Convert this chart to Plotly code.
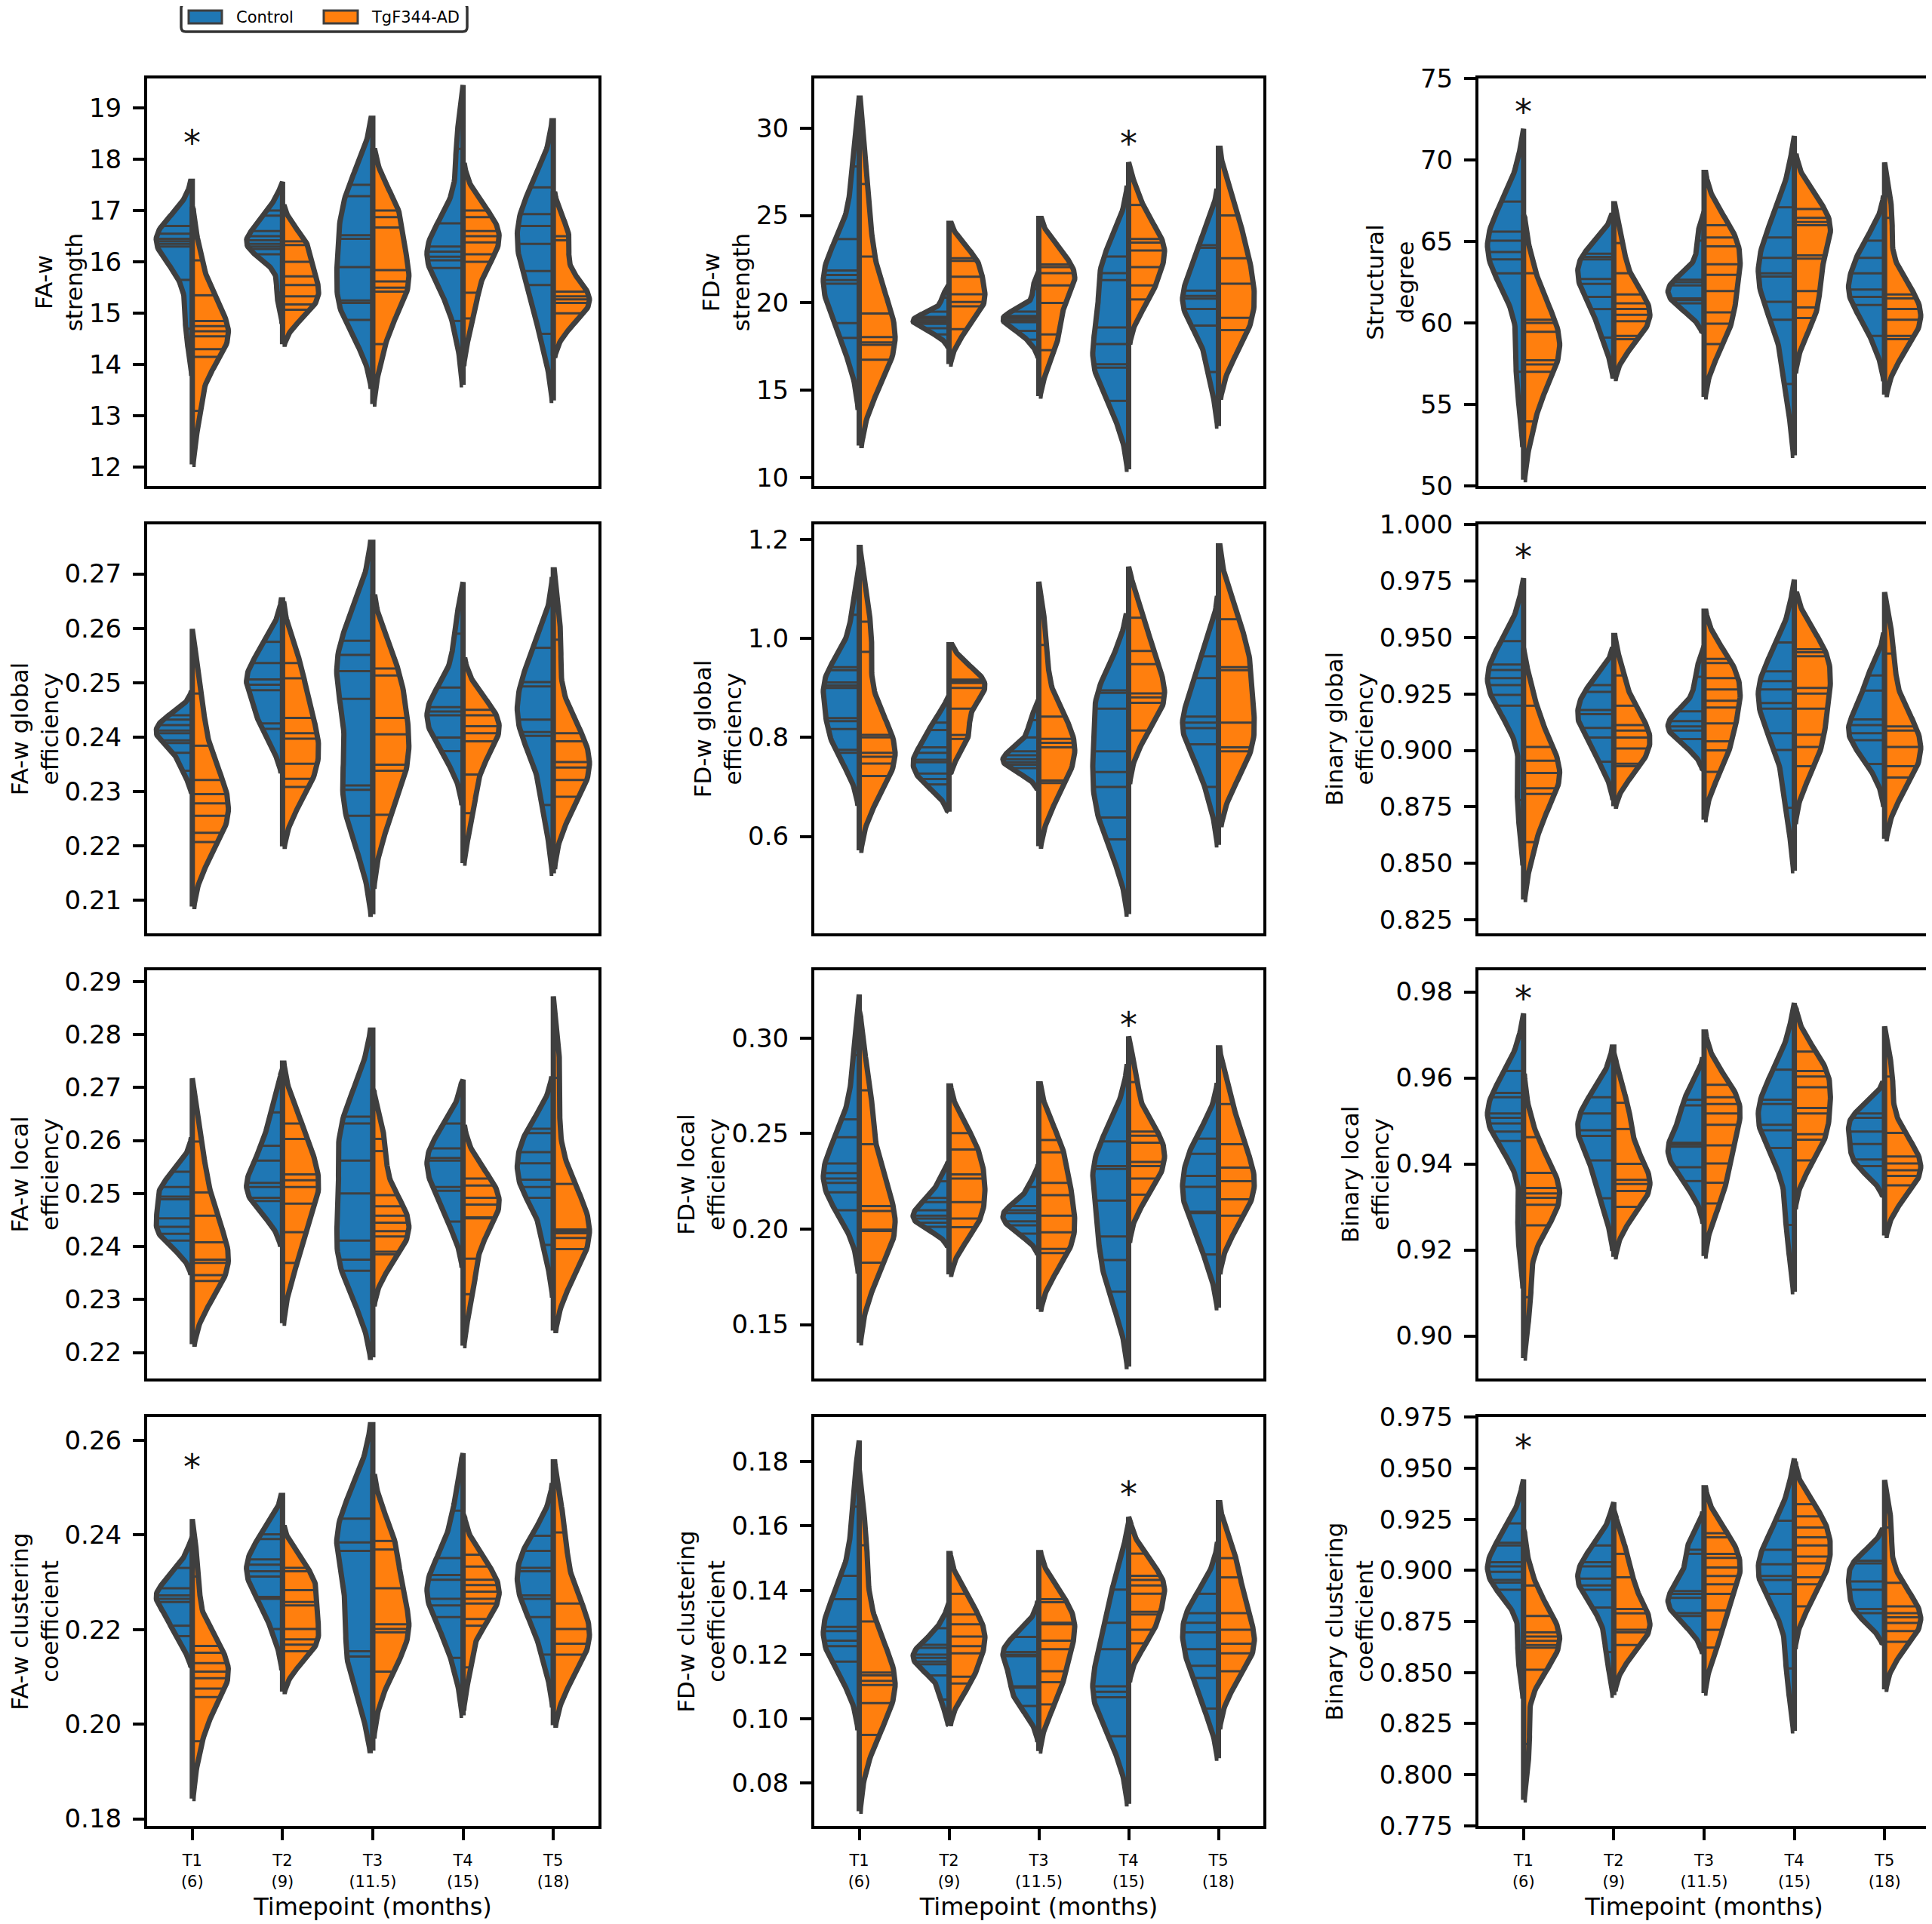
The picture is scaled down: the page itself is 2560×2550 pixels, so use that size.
import numpy as np
import plotly.graph_objects as go

# ---------------- data ----------------
timepoints = ["T1<br>(6)", "T2<br>(9)", "T3<br>(11.5)", "T4<br>(15)", "T5<br>(18)"]
groups = ["Control", "TgF344-AD"]

metric_labels = ["FA-w<br>strength", "FD-w<br>strength", "Structural<br>degree",
                 "FA-w global<br>efficiency", "FD-w global<br>efficiency", "Binary global<br>efficiency",
                 "FA-w local<br>efficiency", "FD-w local<br>efficiency", "Binary local<br>efficiency",
                 "FA-w clustering<br>coefficient", "FD-w clustering<br>coefficient", "Binary clustering<br>coefficient"]

fa_w_strength_control = [
    [16.7, 16.55, 16.45, 16.4, 16.35, 16.3, 15.65, 14.7],
    [17.0, 16.9, 16.6, 16.5, 16.42, 16.35, 16.3, 16.25, 16.15, 15.4],
    [17.5, 17.28, 16.52, 16.45, 15.9, 15.25, 15.2, 14.87],
    [18.2, 16.75, 16.3, 16.2, 16.1, 16.03, 15.88, 14.85],
    [17.45, 16.93, 16.7, 16.35, 15.82, 15.55, 14.6],
]
fa_w_strength_tg = [
    [16.03, 15.35, 14.85, 14.75, 14.65, 14.55, 14.3, 14.15, 13.1],
    [16.4, 16.33, 16.0, 15.72, 15.55, 15.33, 15.17, 15.07],
    [17.0, 16.87, 16.67, 15.84, 15.62, 15.5, 15.42, 14.4],
    [17.0, 16.87, 16.6, 16.5, 16.38, 16.15, 16.0, 15.4, 14.9],
    [16.5, 16.42, 15.42, 15.33, 15.27, 15.2, 15.0],
]
fd_w_strength_control = [
    [27.8, 23.65, 21.85, 21.6, 21.3, 21.1, 18.85, 18.0],
    [20.3, 19.5, 19.2, 19.1, 19.0, 18.9, 18.8, 18.55, 18.2],
    [20.8, 19.5, 19.25, 19.15, 19.1, 19.0, 18.9, 18.4, 17.9],
    [22.65, 21.7, 21.3, 18.6, 17.65, 16.5, 16.3, 14.4],
    [23.3, 23.15, 20.7, 20.4, 20.25, 19.65, 18.7, 16.05],
]
fd_w_strength_tg = [
    [26.8, 22.65, 19.4, 18.05, 17.75, 17.6, 16.75],
    [22.55, 22.4, 21.5, 20.5, 20.05, 19.8, 18.5],
    [22.2, 22.05, 21.7, 21.0, 20.0, 18.2, 17.3],
    [25.6, 23.65, 23.45, 23.0, 22.05, 21.0, 20.2],
    [25.0, 22.55, 21.1, 19.15, 18.45],
]
structural_degree_control = [
    [67.45, 65.6, 65.05, 64.35, 63.9, 63.05, 57.0],
    [64.25, 64.05, 63.9, 62.7, 62.4, 61.6, 60.85, 59.1],
    [65.05, 62.65, 62.5, 62.3, 61.5, 61.4, 61.2],
    [67.1, 65.25, 64.0, 63.05, 62.85, 61.3, 60.2, 56.25],
    [65.05, 64.0, 63.05, 62.05, 61.6, 61.1, 59.2],
]
structural_degree_tg = [
    [63.05, 60.2, 60.0, 59.45, 57.7, 57.45, 57.0, 53.95],
    [64.9, 63.05, 61.75, 61.2, 60.85, 60.5, 60.1, 59.2, 59.0],
    [66.0, 65.25, 64.7, 63.6, 62.95, 61.95, 60.65, 59.95, 58.7],
    [67.0, 66.45, 66.2, 66.0, 64.15, 63.95, 61.95, 60.95, 60.3],
    [66.45, 61.75, 61.5, 60.85, 60.2, 59.2, 59.0],
]
fa_w_global_eff_control = [
    [0.2440, 0.2432, 0.2422, 0.2412, 0.2407, 0.2394, 0.2389, 0.2371, 0.2338],
    [0.2575, 0.2536, 0.2506, 0.2496, 0.2486, 0.2425, 0.2415],
    [0.2577, 0.2551, 0.2521, 0.2470, 0.2311, 0.2303, 0.2255],
    [0.2590, 0.2491, 0.2455, 0.2447, 0.2440, 0.2399, 0.2374],
    [0.2564, 0.2501, 0.2493, 0.2432, 0.2409, 0.2402, 0.2275],
]
fa_w_global_eff_tg = [
    [0.2480, 0.2384, 0.2321, 0.2295, 0.2278, 0.2255, 0.2224, 0.2207],
    [0.2536, 0.2508, 0.2435, 0.2407, 0.2397, 0.2351, 0.2323, 0.2308],
    [0.2526, 0.2513, 0.2435, 0.2405, 0.2349, 0.2338, 0.2257],
    [0.2450, 0.2440, 0.2420, 0.2407, 0.2392, 0.2331, 0.2260],
    [0.2579, 0.2407, 0.2392, 0.2354, 0.2344, 0.2321, 0.2290],
]
fd_w_global_eff_control = [
    [1.048, 0.942, 0.936, 0.911, 0.905, 0.900, 0.839, 0.833, 0.817, 0.775, 0.769],
    [0.830, 0.815, 0.780, 0.769, 0.755, 0.750, 0.727, 0.716, 0.705],
    [0.835, 0.800, 0.772, 0.764, 0.756, 0.750, 0.745, 0.738],
    [0.895, 0.890, 0.858, 0.772, 0.730, 0.700, 0.638, 0.594],
    [0.964, 0.920, 0.842, 0.830, 0.819, 0.786, 0.700],
]
fd_w_global_eff_tg = [
    [1.034, 0.973, 0.805, 0.800, 0.769, 0.761, 0.747, 0.722],
    [0.917, 0.913, 0.910, 0.900, 0.858, 0.805, 0.797],
    [0.987, 0.842, 0.797, 0.789, 0.780, 0.713, 0.708],
    [1.042, 0.975, 0.948, 0.889, 0.881, 0.870, 0.814],
    [1.039, 0.942, 0.936, 0.830, 0.780, 0.772],
]
binary_global_eff_control = [
    [0.9484, 0.9380, 0.9356, 0.9320, 0.9289, 0.9246, 0.9198, 0.8780],
    [0.9289, 0.9259, 0.9179, 0.9161, 0.9100, 0.9057, 0.8950],
    [0.9326, 0.9173, 0.9130, 0.9106, 0.9088, 0.9050],
    [0.9478, 0.9350, 0.9307, 0.9270, 0.9210, 0.9185, 0.9076, 0.9002, 0.8746],
    [0.9332, 0.9265, 0.9137, 0.9112, 0.9076, 0.9045, 0.8940],
]
binary_global_eff_tg = [
    [0.9198, 0.9015, 0.8954, 0.8900, 0.8832, 0.8807, 0.8594],
    [0.9332, 0.9198, 0.9112, 0.9088, 0.9057, 0.9009, 0.8941, 0.8930],
    [0.9405, 0.9387, 0.9320, 0.9270, 0.9220, 0.9190, 0.9120, 0.9040, 0.9000, 0.8905],
    [0.9448, 0.9435, 0.9417, 0.9277, 0.9252, 0.9185, 0.9070, 0.9015, 0.8930],
    [0.9429, 0.9106, 0.9088, 0.9015, 0.8930, 0.8880],
]
fa_w_local_eff_control = [
    [0.2541, 0.2512, 0.2494, 0.2489, 0.2453, 0.2437, 0.2424, 0.2411],
    [0.2653, 0.2590, 0.2562, 0.2520, 0.2512, 0.2492, 0.2486],
    [0.2645, 0.2632, 0.2562, 0.2500, 0.2411, 0.2375, 0.2354],
    [0.2632, 0.2585, 0.2567, 0.2562, 0.2512, 0.2505, 0.2447],
    [0.2622, 0.2614, 0.2578, 0.2557, 0.2526, 0.2512, 0.2492, 0.2403],
]
fa_w_local_eff_tg = [
    [0.2598, 0.2502, 0.2458, 0.2408, 0.2375, 0.2369, 0.2346, 0.2335],
    [0.2632, 0.2603, 0.2536, 0.2525, 0.2512, 0.2481, 0.2427, 0.2369],
    [0.2603, 0.2580, 0.2497, 0.2476, 0.2458, 0.2445, 0.2429, 0.2419, 0.2390, 0.2385],
    [0.2528, 0.2515, 0.2492, 0.2479, 0.2455, 0.2453, 0.2377, 0.2310],
    [0.2718, 0.2518, 0.2432, 0.2429, 0.2425, 0.2416, 0.2395],
]
fd_w_local_eff_control = [
    [0.2910, 0.2574, 0.2480, 0.2343, 0.2293, 0.2264, 0.2242, 0.2192, 0.2098],
    [0.2250, 0.2163, 0.2141, 0.2098, 0.2070, 0.2055, 0.2033, 0.2012],
    [0.2220, 0.2120, 0.2098, 0.2084, 0.2040, 0.2019, 0.1976],
    [0.2459, 0.2329, 0.2315, 0.2149, 0.1961, 0.1838, 0.1672],
    [0.2473, 0.2394, 0.2278, 0.2221, 0.2091, 0.2084, 0.1867],
]
fd_w_local_eff_tg = [
    [0.2726, 0.2444, 0.2120, 0.2095, 0.1997, 0.1990, 0.1824],
    [0.2502, 0.2416, 0.2286, 0.2264, 0.2141, 0.2055, 0.2010],
    [0.2466, 0.2401, 0.2242, 0.2177, 0.2070, 0.1983, 0.1896, 0.1874],
    [0.2769, 0.2510, 0.2488, 0.2452, 0.2351, 0.2329, 0.2264, 0.2180],
    [0.2654, 0.2444, 0.2322, 0.2250, 0.2156, 0.2070],
]
binary_local_eff_control = [
    [0.9616, 0.9565, 0.9555, 0.9517, 0.9507, 0.9494, 0.9475, 0.9453, 0.9250],
    [0.9555, 0.9517, 0.9478, 0.9465, 0.9408, 0.9320],
    [0.9549, 0.9536, 0.9449, 0.9445, 0.9440, 0.9392, 0.9360],
    [0.9619, 0.9549, 0.9539, 0.9491, 0.9478, 0.9437, 0.9258],
    [0.9517, 0.9507, 0.9475, 0.9446, 0.9410, 0.9395],
]
binary_local_eff_tg = [
    [0.9462, 0.9379, 0.9344, 0.9331, 0.9321, 0.9305, 0.9257, 0.9090],
    [0.9542, 0.9481, 0.9400, 0.9363, 0.9353, 0.9337, 0.9300],
    [0.9584, 0.9555, 0.9539, 0.9517, 0.9491, 0.9443, 0.9401, 0.9356, 0.9308],
    [0.9661, 0.9616, 0.9603, 0.9578, 0.9530, 0.9517, 0.9469, 0.9456, 0.9408],
    [0.9603, 0.9472, 0.9417, 0.9401, 0.9385, 0.9372, 0.9350],
]
fa_w_clustering_control = [
    [0.2330, 0.2287, 0.2272, 0.2265, 0.2258, 0.2208, 0.2186],
    [0.2401, 0.2391, 0.2348, 0.2337, 0.2323, 0.2312, 0.2269, 0.2265, 0.2201],
    [0.2434, 0.2384, 0.2366, 0.2154, 0.2143],
    [0.2451, 0.2351, 0.2315, 0.2305, 0.2265, 0.2251, 0.2226, 0.2140],
    [0.2398, 0.2366, 0.2330, 0.2323, 0.2272, 0.2265, 0.2226, 0.2147],
]
fa_w_clustering_tg = [
    [0.2312, 0.2165, 0.2151, 0.2129, 0.2111, 0.2097, 0.2075, 0.2057, 0.1964],
    [0.2330, 0.2323, 0.2283, 0.2258, 0.2251, 0.2201, 0.2179, 0.2168, 0.2154],
    [0.2387, 0.2369, 0.2287, 0.2211, 0.2201, 0.2194, 0.2111],
    [0.2358, 0.2333, 0.2305, 0.2294, 0.2280, 0.2265, 0.2255, 0.2222, 0.2208, 0.2120],
    [0.2405, 0.2255, 0.2201, 0.2170, 0.2147],
]
fd_w_clustering_control = [
    [0.1660, 0.1445, 0.1372, 0.1286, 0.1273, 0.1243, 0.1226, 0.1178],
    [0.1282, 0.1230, 0.1221, 0.1200, 0.1190, 0.1178, 0.1170, 0.1135, 0.1060],
    [0.1255, 0.1208, 0.1200, 0.1195, 0.1101, 0.1097, 0.1040],
    [0.1402, 0.1299, 0.1217, 0.1101, 0.1084, 0.1067, 0.0946],
    [0.1389, 0.1329, 0.1299, 0.1269, 0.1217, 0.1165, 0.1127, 0.1032],
]
fd_w_clustering_tg = [
    [0.1540, 0.1303, 0.1144, 0.1135, 0.1118, 0.1105, 0.1049, 0.0950],
    [0.1389, 0.1325, 0.1294, 0.1256, 0.1226, 0.1204, 0.1131, 0.1110],
    [0.1372, 0.1363, 0.1299, 0.1294, 0.1243, 0.1217, 0.1148, 0.1114, 0.1045],
    [0.1514, 0.1445, 0.1432, 0.1415, 0.1389, 0.1333, 0.1325, 0.1277, 0.1235],
    [0.1500, 0.1440, 0.1329, 0.1277, 0.1234, 0.1204, 0.1148],
]
binary_clustering_control = [
    [0.9230, 0.9135, 0.9122, 0.9040, 0.9020, 0.8993, 0.8953, 0.8940, 0.8905, 0.8600],
    [0.9122, 0.9040, 0.9020, 0.8960, 0.8926, 0.8905, 0.8818, 0.8600],
    [0.9101, 0.9081, 0.8899, 0.8885, 0.8865, 0.8791, 0.8777],
    [0.9243, 0.9101, 0.9030, 0.8973, 0.8953, 0.8885, 0.8520],
    [0.9047, 0.9034, 0.8946, 0.8905, 0.8811, 0.8791],
]
binary_clustering_tg = [
    [0.8926, 0.8777, 0.8696, 0.8676, 0.8655, 0.8635, 0.8622, 0.8514, 0.8150],
    [0.9081, 0.8966, 0.8811, 0.8790, 0.8709, 0.8696, 0.8635],
    [0.9182, 0.9162, 0.9081, 0.9061, 0.9014, 0.8973, 0.8932, 0.8885, 0.8804, 0.8709, 0.8622],
    [0.9324, 0.9264, 0.9210, 0.9162, 0.9122, 0.9068, 0.9034, 0.8966, 0.8932, 0.8824],
    [0.9210, 0.8939, 0.8824, 0.8791, 0.8770, 0.8743, 0.8703, 0.8650],
]

# y-axis ranges and tick values for each panel
y_ranges = [[11.64, 19.57], [9.54, 32.83], [49.99, 75.01],
            [0.2039, 0.2791], [0.404, 1.2307], [0.8190, 1.0001],
            [0.2151, 0.2921], [0.1218, 0.3354], [0.8901, 0.985],
            [0.1785, 0.2649], [0.0667, 0.1939], [0.7749, 0.9751]]
y_ticks = [[12, 13, 14, 15, 16, 17, 18, 19], [10, 15, 20, 25, 30], [50, 55, 60, 65, 70, 75],
           [0.21, 0.22, 0.23, 0.24, 0.25, 0.26, 0.27], [0.6, 0.8, 1.0, 1.2],
           [0.825, 0.85, 0.875, 0.9, 0.925, 0.95, 0.975, 1.0],
           [0.22, 0.23, 0.24, 0.25, 0.26, 0.27, 0.28, 0.29], [0.15, 0.20, 0.25, 0.30],
           [0.90, 0.92, 0.94, 0.96, 0.98],
           [0.18, 0.20, 0.22, 0.24, 0.26], [0.08, 0.10, 0.12, 0.14, 0.16, 0.18],
           [0.775, 0.8, 0.825, 0.85, 0.875, 0.9, 0.925, 0.95, 0.975]]
y_decimals = [0, 0, 0, 2, 1, 3, 2, 2, 2, 2, 2, 3]

# significance markers: (panel, timepoint index, y)
stars = [(0, 0, 18.47), (1, 3, 29.57), (2, 0, 73.44), (5, 0, 0.989), (7, 3, 0.311),
         (8, 0, 0.9803), (9, 0, 0.2559), (10, 3, 0.1724), (11, 0, 0.9642)]

panels = [
    (fa_w_strength_control, fa_w_strength_tg),
    (fd_w_strength_control, fd_w_strength_tg),
    (structural_degree_control, structural_degree_tg),
    (fa_w_global_eff_control, fa_w_global_eff_tg),
    (fd_w_global_eff_control, fd_w_global_eff_tg),
    (binary_global_eff_control, binary_global_eff_tg),
    (fa_w_local_eff_control, fa_w_local_eff_tg),
    (fd_w_local_eff_control, fd_w_local_eff_tg),
    (binary_local_eff_control, binary_local_eff_tg),
    (fa_w_clustering_control, fa_w_clustering_tg),
    (fd_w_clustering_control, fd_w_clustering_tg),
    (binary_clustering_control, binary_clustering_tg),
]

# ---------------- style ----------------
BLUE = "#1f77b4"
ORANGE = "#ff7f0e"
GRAY = "#3f3f3f"
HALF = 0.4
OUT_W = 7
STICK_W = 3
FONT = "DejaVu Sans"

W, H = 2560, 2550
OFF = 8  # page body margin of the rendered html
ML, MR, MT, MB = 170, 0, 60, 130
PW, PH = W - ML - MR, H - MT - MB
cols_px = [(195, 793), (1079, 1674), (1959, 2557)]
rows_px = [(104, 644), (695, 1237), (1286, 1827), (1878, 2420)]


def px_x(px):
    return (px - OFF - ML) / PW


def px_y(py):
    return (H - MB - (py - OFF)) / PH


def kde(vals):
    v = np.asarray(vals, float)
    n = len(v)
    bw = n ** (-1.0 / 5) * v.std(ddof=1)
    support = np.linspace(v.min() - 2 * bw, v.max() + 2 * bw, 100)
    dens = np.exp(-0.5 * ((support[:, None] - v[None, :]) / bw) ** 2).sum(axis=1)
    dens = dens / dens.max()
    return support, dens


fig = go.Figure()
layout = {}
annotations = []

for k, (ctrl, tg) in enumerate(panels):
    r, c = divmod(k, 3)
    xa = "x" if k == 0 else f"x{k + 1}"
    ya = "y" if k == 0 else f"y{k + 1}"
    for i in range(len(timepoints)):
        for side, data, color in ((-1, ctrl[i], BLUE), (1, tg[i], ORANGE)):
            support, dens = kde(data)
            xs = [i] + list(i + side * HALF * dens) + [i, i]
            ys = [support[0]] + list(support) + [support[-1], support[0]]
            fig.add_trace(go.Scatter(
                x=xs, y=ys, mode="lines", fill="toself", fillcolor=color,
                line=dict(color=GRAY, width=OUT_W), hoverinfo="skip",
                showlegend=False, xaxis=xa, yaxis=ya))
            sx, sy = [], []
            for val in data:
                idx = int(np.argmin(np.abs(support - val)))
                w = HALF * dens[idx] * 0.99
                sx += [i, i + side * w, None]
                sy += [val, val, None]
            fig.add_trace(go.Scatter(
                x=sx, y=sy, mode="lines", line=dict(color=GRAY, width=STICK_W),
                hoverinfo="skip", showlegend=False, xaxis=xa, yaxis=ya))

    x0, x1 = cols_px[c]
    y0, y1 = rows_px[r]
    bottom = (r == 3)
    xkey = "xaxis" if k == 0 else f"xaxis{k + 1}"
    ykey = "yaxis" if k == 0 else f"yaxis{k + 1}"
    layout[xkey] = dict(
        domain=[max(0.0, px_x(x0)), min(1.0, px_x(x1))], anchor=ya, range=[-0.5, 4.5],
        showgrid=False, zeroline=False, showline=True, linecolor="black",
        linewidth=4, mirror=True, automargin=False,
        tickmode="array", tickvals=list(range(5)), ticktext=timepoints,
        showticklabels=bottom, ticks="outside" if bottom else "",
        ticklen=15, tickwidth=3.5, tickcolor="black",
        tickfont=dict(size=21, family=FONT, color="black"),
        ticklabelstandoff=9,
        title=dict(text="Timepoint (months)" if bottom else "",
                   font=dict(size=32, family=FONT, color="black")),
    )
    dec = y_decimals[k]
    layout[ykey] = dict(
        domain=[max(0.0, px_y(y1)), min(1.0, px_y(y0))], anchor=xa, range=y_ranges[k],
        showgrid=False, zeroline=False, showline=True, linecolor="black",
        linewidth=4, mirror=True, automargin=False,
        tickmode="array", tickvals=y_ticks[k],
        ticktext=[f"{t:.{dec}f}" for t in y_ticks[k]],
        ticks="outside", ticklen=15, tickwidth=3.5, tickcolor="black",
        tickfont=dict(size=34, family=FONT, color="black"),
        ticklabelstandoff=8,
        title=dict(text=metric_labels[k], font=dict(size=31, family=FONT, color="black")),
    )

for k, ti, yv in stars:
    xa = "x" if k == 0 else f"x{k + 1}"
    ya = "y" if k == 0 else f"y{k + 1}"
    annotations.append(dict(x=ti, y=yv, xref=xa, yref=ya, text="*", showarrow=False,
                            font=dict(size=46, family=FONT, color="#111111"),
                            xanchor="center", yanchor="middle", yshift=-10))

# ---------------- legend (drawn manually) ----------------
shapes = []
lx0, lx1, ly0, ly1 = 240, 619, 5, 42
rad = 6
path = (f"M {px_x(lx0 + rad)},{px_y(ly0)} L {px_x(lx1 - rad)},{px_y(ly0)} "
        f"Q {px_x(lx1)},{px_y(ly0)} {px_x(lx1)},{px_y(ly0 + rad)} "
        f"L {px_x(lx1)},{px_y(ly1 - rad)} Q {px_x(lx1)},{px_y(ly1)} {px_x(lx1 - rad)},{px_y(ly1)} "
        f"L {px_x(lx0 + rad)},{px_y(ly1)} Q {px_x(lx0)},{px_y(ly1)} {px_x(lx0)},{px_y(ly1 - rad)} "
        f"L {px_x(lx0)},{px_y(ly0 + rad)} Q {px_x(lx0)},{px_y(ly0)} {px_x(lx0 + rad)},{px_y(ly0)} Z")
shapes.append(dict(type="path", xref="paper", yref="paper", path=path,
                   line=dict(color="#333333", width=3.5), fillcolor="white", layer="above"))
legend_items = [(groups[0], BLUE, 250, 294, 311), (groups[1], ORANGE, 429, 474, 490)]
for name, color, p0, p1, tx in legend_items:
    shapes.append(dict(type="rect", xref="paper", yref="paper",
                       x0=px_x(p0), x1=px_x(p1), y0=px_y(31), y1=px_y(14),
                       fillcolor=color, line=dict(color=GRAY, width=3), layer="above"))
    annotations.append(dict(x=px_x(tx), y=px_y(23), xref="paper", yref="paper", text=name,
                            showarrow=False, xanchor="left", yanchor="middle",
                            font=dict(size=21, family=FONT, color="black")))

fig.update_layout(
    width=W, height=H, template="none",
    paper_bgcolor="white", plot_bgcolor="white",
    margin=dict(l=ML, r=MR, t=MT, b=MB),
    font=dict(family=FONT, color="black"),
    showlegend=False, shapes=shapes, annotations=annotations,
    **layout,
)

fig.write_html("out.html")
